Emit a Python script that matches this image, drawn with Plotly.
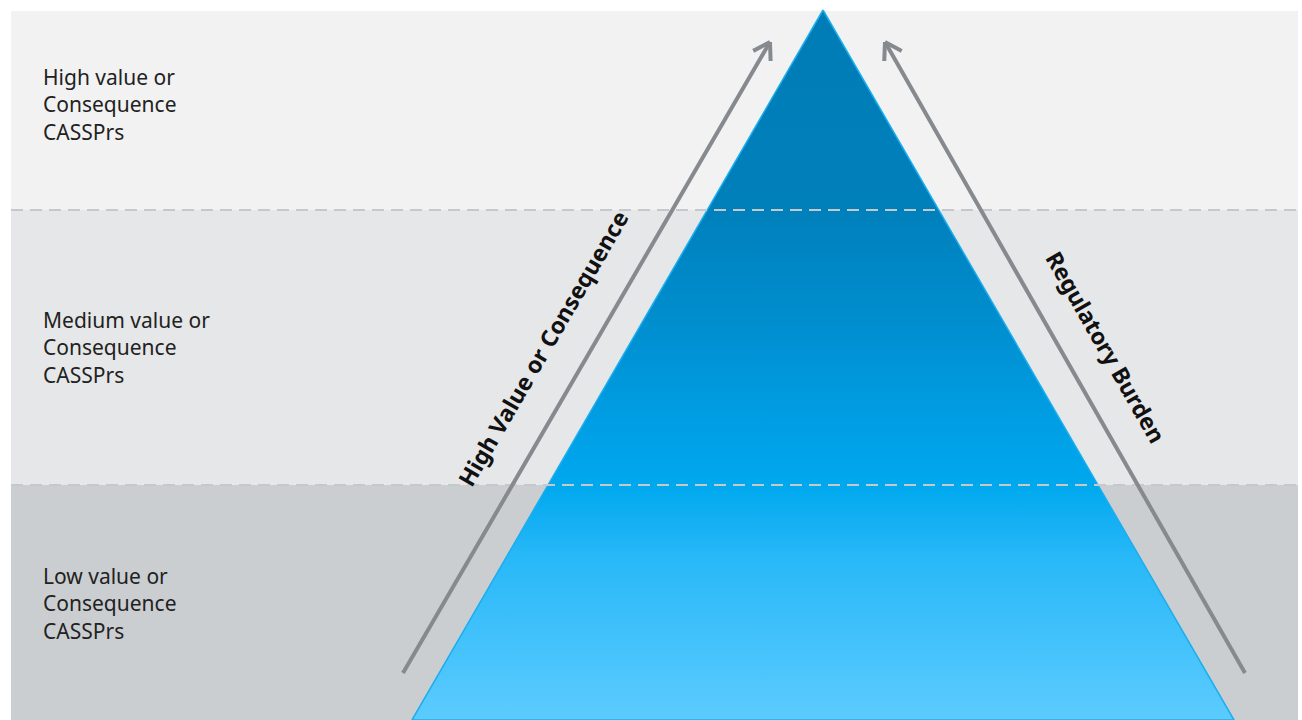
import math
import plotly.graph_objects as go

W, H = 1302, 720

# Bands (tier labels and vertical extents in px-units of the canvas axis)
band_labels = ["High value or<br>Consequence<br>CASSPrs",
               "Medium value or<br>Consequence<br>CASSPrs",
               "Low value or<br>Consequence<br>CASSPrs"]
band_top = [11, 210, 485]
band_bottom = [210, 485, 720]
band_label_y = [104, 347, 603]
band_colors = ["#f2f2f2", "#e6e7e8", "#cbced1"]
band_left, band_right = 11, 1298
divider_y = [210, 485]

# Pyramid
tri_x = [823, 412, 1234, 823]
tri_y = [10, 720, 720, 10]
grad_stops = [0.0, 0.28, 0.45, 0.58, 0.67, 0.77, 1.0]
grad_colors = ["#007cb6", "#0080bb", "#008fd0", "#009ee4", "#00a8ee", "#28b8f8", "#5ccbfe"]

# Arrows: tail -> head
arrow_tail_x = [403, 1245]
arrow_tail_y = [673, 673]
arrow_head_x = [770, 885]
arrow_head_y = [42, 42]
arrow_labels = ["High Value or Consequence", "Regulatory Burden"]
arrow_label_x = [543, 1106]
arrow_label_y = [348, 347]

fig = go.Figure()

shapes = []
for t, b, c in zip(band_top, band_bottom, band_colors):
    shapes.append(dict(type="rect", xref="x", yref="y", x0=band_left, x1=band_right,
                       y0=t, y1=b, fillcolor=c, line=dict(width=0), layer="below"))

fig.add_trace(go.Scatter(
    x=tri_x, y=tri_y, mode="lines", fill="toself",
    line=dict(color="#1aaef0", width=1.5),
    fillgradient=dict(type="vertical", start=10, stop=720,
                      colorscale=[[s, c] for s, c in zip(grad_stops, grad_colors)]),
    hoverinfo="skip", showlegend=False))

for y in divider_y:
    shapes.append(dict(type="line", xref="x", yref="y", x0=band_left, x1=band_right,
                       y0=y, y1=y, line=dict(color="#c6c9cb", width=2, dash="12px,7px"),
                       layer="above"))

arrow_color = "#868a8e"
wing_len = 19
wing_ang = math.radians(32)
for tx, ty, hx, hy in zip(arrow_tail_x, arrow_tail_y, arrow_head_x, arrow_head_y):
    shapes.append(dict(type="line", xref="x", yref="y", x0=tx, y0=ty, x1=hx, y1=hy,
                       line=dict(color=arrow_color, width=4), layer="above"))
    back = math.atan2(ty - hy, tx - hx)
    for s in (-1, 1):
        a = back + s * wing_ang
        shapes.append(dict(type="line", xref="x", yref="y", x0=hx, y0=hy,
                           x1=hx + wing_len * math.cos(a), y1=hy + wing_len * math.sin(a),
                           line=dict(color=arrow_color, width=4), layer="above"))

annotations = []
for lab, y in zip(band_labels, band_label_y):
    annotations.append(dict(x=41, y=y, xref="x", yref="y", text=lab, showarrow=False,
                            xanchor="left", yanchor="middle", align="left",
                            font=dict(family="Noto Sans", size=21, color="#222222")))

for i, (lab, x, y) in enumerate(zip(arrow_labels, arrow_label_x, arrow_label_y)):
    tx, ty, hx, hy = arrow_tail_x[i], arrow_tail_y[i], arrow_head_x[i], arrow_head_y[i]
    ang = math.degrees(math.atan2(hy - ty, hx - tx))
    if ang < -90:
        ang += 180
    annotations.append(dict(x=x, y=y, xref="x", yref="y", text="<b>" + lab + "</b>",
                            showarrow=False, textangle=ang, xanchor="center", yanchor="middle",
                            font=dict(family="Noto Sans", size=23, color="#111111")))

fig.update_layout(
    width=W, height=H, margin=dict(l=0, r=0, t=0, b=0),
    paper_bgcolor="white", plot_bgcolor="white",
    xaxis=dict(range=[0, W], visible=False, fixedrange=True),
    yaxis=dict(range=[H, 0], visible=False, fixedrange=True),
    shapes=shapes, annotations=annotations, showlegend=False)

fig.write_html("out.html", config={"displayModeBar": False},
               post_script="document.body.style.margin='0';document.body.style.overflow='hidden';")
